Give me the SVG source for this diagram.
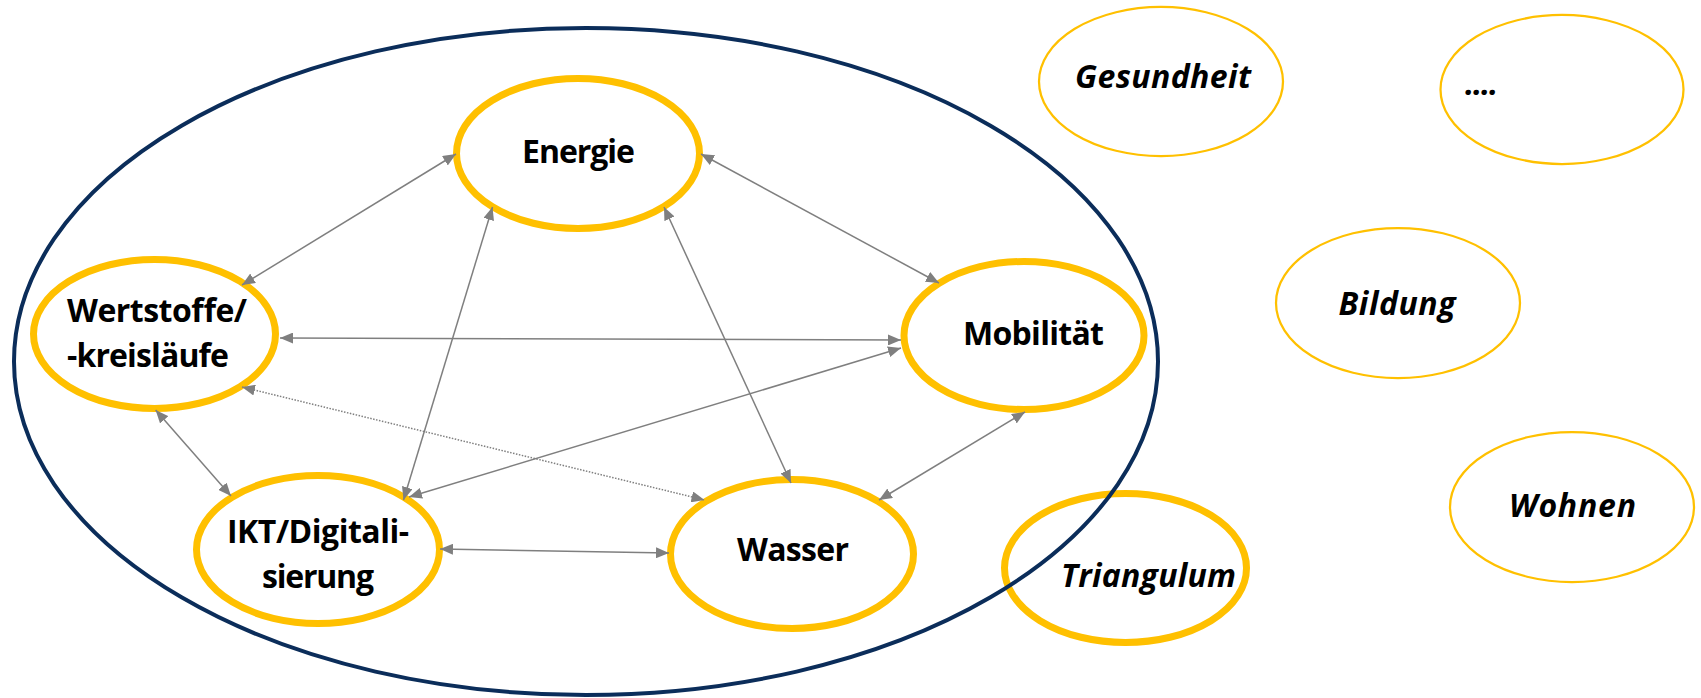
<svg xmlns="http://www.w3.org/2000/svg" width="1701" height="698" viewBox="0 0 1701 698">
<style>
.bg{fill:#ffffff}
.frame{fill:none;stroke:#0b2d5a;stroke-width:4}
.core{fill:#ffffff;stroke:#FFC000;stroke-width:7}
.ring{fill:none;stroke:#FFC000;stroke-width:7}
.thin{fill:#ffffff;stroke:#FFC000;stroke-width:2.25}
.lbl{font-family:"Open Sans","Liberation Sans",sans-serif;font-weight:700;font-size:32px;fill:#000000}
.it{font-style:italic}
.mid{text-anchor:middle}
.con{fill:none;stroke:#7f7f7f;stroke-width:1.5;marker-start:url(#ah);marker-end:url(#ah)}
.dot{stroke-dasharray:1.5 1.5}
</style>
<defs>
<marker id="ah" markerUnits="userSpaceOnUse" markerWidth="13" markerHeight="11" viewBox="0 0 13 11" refX="13" refY="5.5" orient="auto-start-reverse">
<path d="M0,0 L13,5.5 L0,11 z" fill="#7f7f7f"/>
</marker>
</defs>
<rect class="bg" x="0" y="0" width="1701" height="698"/>
<g id="triangulum">
<ellipse class="ring" cx="1125.5" cy="568" rx="121" ry="74.5"/>
<text class="lbl it mid" x="1148.5" y="587" textLength="175">Triangulum</text>
</g>
<ellipse id="frame" class="frame" cx="586" cy="361.5" rx="572" ry="333.5"/>
<g id="energie">
<ellipse class="core" cx="578" cy="153.5" rx="121.5" ry="75"/>
<text class="lbl mid" x="578.5" y="163" textLength="113">Energie</text>
</g>
<g id="wertstoffe">
<ellipse class="core" cx="154.5" cy="334" rx="121" ry="74.5"/>
<text class="lbl" x="67" y="322" textLength="180">Wertstoffe/</text>
<text class="lbl" x="67" y="367" textLength="162">-kreisläufe</text>
</g>
<g id="mobilitaet">
<ellipse class="core" cx="1024" cy="335.5" rx="120" ry="74"/>
<text class="lbl mid" x="1033.5" y="345" textLength="141">Mobilität</text>
</g>
<g id="ikt">
<ellipse class="core" cx="318" cy="549.5" rx="121.5" ry="74"/>
<text class="lbl mid" x="318" y="543" textLength="182">IKT/Digitali-</text>
<text class="lbl mid" x="318" y="588" textLength="112">sierung</text>
</g>
<g id="wasser">
<ellipse class="core" cx="792" cy="554" rx="121.5" ry="74.5"/>
<text class="lbl mid" x="793" y="561" textLength="112">Wasser</text>
</g>
<g id="gesundheit">
<ellipse class="thin" cx="1161" cy="81.5" rx="122" ry="74.5"/>
<text class="lbl it mid" x="1163" y="88" textLength="176">Gesundheit</text>
</g>
<g id="more">
<ellipse class="thin" cx="1562" cy="89.5" rx="121.5" ry="74.5"/>
<text class="lbl it" x="1465" y="95" textLength="33">....</text>
</g>
<g id="bildung">
<ellipse class="thin" cx="1398" cy="303" rx="122" ry="75"/>
<text class="lbl it mid" x="1397" y="315" textLength="117">Bildung</text>
</g>
<g id="wohnen">
<ellipse class="thin" cx="1572" cy="507" rx="122" ry="75"/>
<text class="lbl it mid" x="1572.5" y="517" textLength="127">Wohnen</text>
</g>
<g id="connectors">
<line class="con" x1="242" y1="285" x2="456" y2="154"/>
<line class="con" x1="701" y1="154" x2="939" y2="283"/>
<line class="con" x1="492.5" y1="207" x2="403.5" y2="500"/>
<line class="con" x1="664" y1="207" x2="791" y2="483"/>
<line class="con" x1="280" y1="338" x2="901" y2="340"/>
<line class="con" x1="409" y1="497" x2="901" y2="348"/>
<line class="con dot" x1="242" y1="387" x2="704.5" y2="500"/>
<line class="con" x1="155.6" y1="410" x2="231" y2="496"/>
<line class="con" x1="440" y1="549" x2="669" y2="553"/>
<line class="con" x1="1025" y1="412" x2="879" y2="500"/>
</g>
</svg>
